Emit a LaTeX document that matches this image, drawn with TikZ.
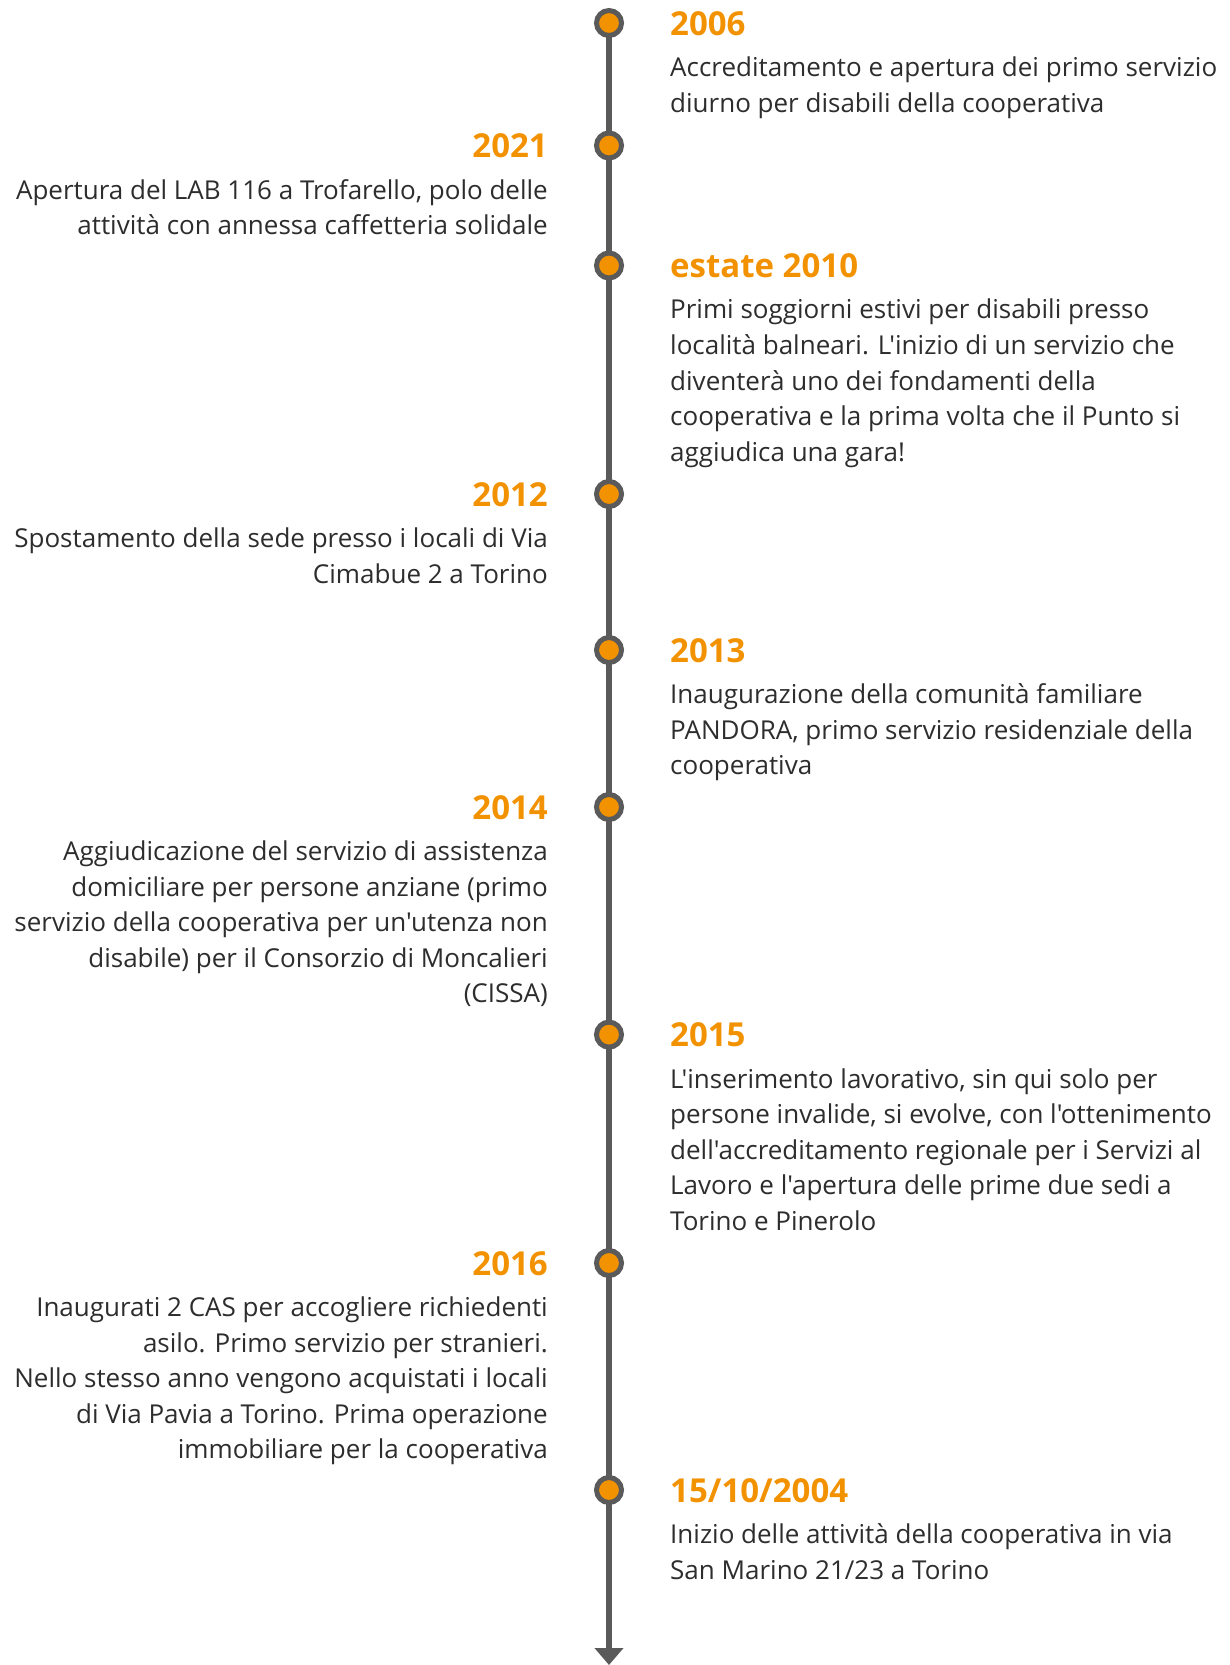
\documentclass[tikz,border=0pt]{standalone}
\usepackage{fontspec}
\usepackage{tikz}
\usetikzlibrary{arrows.meta, backgrounds}
\newfontfamily\tlfont{Open Sans}
\definecolor{tlorange}{RGB}{243,146,0}
\definecolor{tlgray}{RGB}{90,90,90}
\definecolor{tltext}{RGB}{45,45,45}
\tikzset{
    dot/.style={circle, draw=tlgray, fill=tlorange, line width=5pt, minimum size=25pt, inner sep=0pt}, % punto sulla linea
    year/.style={text=tlorange, font=\tlfont\bfseries\fontsize{33}{38}\selectfont, inner sep=0pt}, % anno
    body/.style={text=tltext, font=\tlfont\fontsize{26}{35.6}\selectfont, inner sep=0pt, execute at begin node=\strut} % descrizione
}

\begin{document}
\begin{tikzpicture}[x=1pt, y=-1pt]
            \def\lx{609} \def\rx{670} \def\lt{548} \def\off{33.5}
            \useasboundingbox (0,0) rectangle (1229,1665);

            \foreach \y [count=\i] in {23,145.5,265.5,494,650,807,1034.6,1263,1490} {\node[dot] (d\i) at (\lx,\y) {};}
            \coordinate (end) at (\lx,1665);

            \begin{scope}[on background layer]
                \fill[white] (0,0) rectangle (1229,1665);
                \draw[tlgray, line width=5.5pt, -{Triangle[width=28pt, length=17pt]}] (d1.center) -- (end);
            \end{scope}

            % lato destro
            \node[year, anchor=base west] (y1) at (\rx, 23+12) {2006};
            \node[body, anchor=north west, align=left] (t1) at (\rx, 23+\off) {Accreditamento e apertura dei primo servizio\\diurno per disabili della cooperativa};
            \node[year, anchor=base west] (y3) at (\rx, 265.5+12) {estate 2010};
            \node[body, anchor=north west, align=left] (t3) at (\rx, 265.5+\off) {Primi soggiorni estivi per disabili presso\\località balneari. L'inizio di un servizio che\\diventerà uno dei fondamenti della\\cooperativa e la prima volta che il Punto si\\aggiudica una gara!};
            \node[year, anchor=base west] (y5) at (\rx, 650+12) {2013};
            \node[body, anchor=north west, align=left] (t5) at (\rx, 650+\off) {Inaugurazione della comunità familiare\\PANDORA, primo servizio residenziale della\\cooperativa};
            \node[year, anchor=base west] (y7) at (\rx, 1034.6+12) {2015};
            \node[body, anchor=north west, align=left] (t7) at (\rx, 1034.6+\off) {L'inserimento lavorativo, sin qui solo per\\persone invalide, si evolve, con l'ottenimento\\dell'accreditamento regionale per i Servizi al\\Lavoro e l'apertura delle prime due sedi a\\Torino e Pinerolo};
            \node[year, anchor=base west] (y9) at (\rx, 1490+12) {15/10/2004};
            \node[body, anchor=north west, align=left] (t9) at (\rx, 1490+\off) {Inizio delle attività della cooperativa in via\\San Marino 21/23 a Torino};

            % lato sinistro
            \node[year, anchor=base east] (y2) at (\lt, 145.5+12) {2021};
            \node[body, anchor=north east, align=right] (t2) at (\lt, 145.5+\off) {Apertura del LAB 116 a Trofarello, polo delle\\attività con annessa caffetteria solidale};
            \node[year, anchor=base east] (y4) at (\lt, 494+12) {2012};
            \node[body, anchor=north east, align=right] (t4) at (\lt, 494+\off) {Spostamento della sede presso i locali di Via\\Cimabue 2 a Torino};
            \node[year, anchor=base east] (y6) at (\lt, 807+12) {2014};
            \node[body, anchor=north east, align=right] (t6) at (\lt, 807+\off) {Aggiudicazione del servizio di assistenza\\domiciliare per persone anziane (primo\\servizio della cooperativa per un'utenza non\\disabile) per il Consorzio di Moncalieri\\(CISSA)};
            \node[year, anchor=base east] (y8) at (\lt, 1263+12) {2016};
            \node[body, anchor=north east, align=right] (t8) at (\lt, 1263+\off) {Inaugurati 2 CAS per accogliere richiedenti\\asilo. Primo servizio per stranieri.\\Nello stesso anno vengono acquistati i locali\\di Via Pavia a Torino. Prima operazione\\immobiliare per la cooperativa};
        \end{tikzpicture}
\end{document}
